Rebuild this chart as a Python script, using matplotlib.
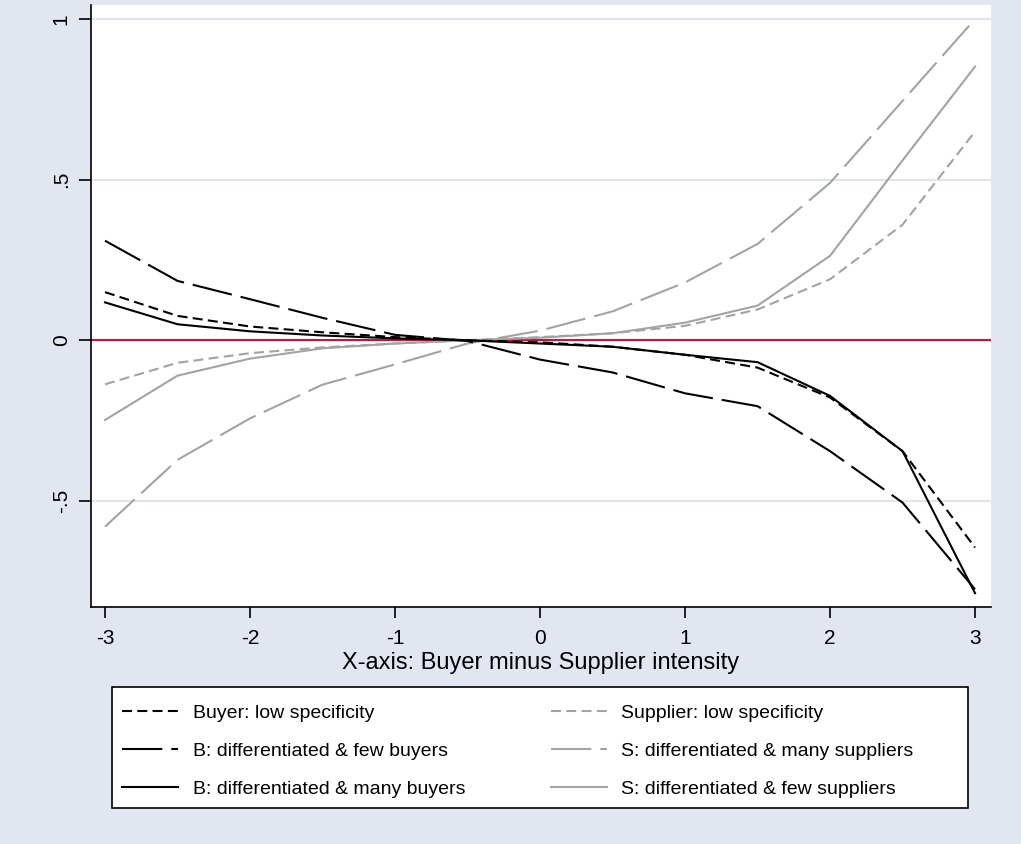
import numpy as np
import matplotlib
matplotlib.use('Agg')
import matplotlib.pyplot as plt
from matplotlib.patches import Rectangle

plt.rcParams['font.family'] = ['Liberation Sans', 'DejaVu Sans']
plt.rcParams['lines.scale_dashes'] = False
plt.rcParams['axes.unicode_minus'] = False

# data
x = [-3, -2.5, -2, -1.5, -1, -0.5, 0, 0.5, 1, 1.5, 2, 2.5, 3]
buyer_low = [0.15, 0.076, 0.043, 0.025, 0.01, 0.0, -0.006, -0.02, -0.045, -0.085, -0.178, -0.345, -0.645]
b_few = [0.31, 0.185, 0.128, 0.07, 0.017, -0.002, -0.06, -0.10, -0.165, -0.205, -0.345, -0.505, -0.775]
b_many = [0.118, 0.05, 0.028, 0.015, 0.006, 0.0, -0.01, -0.02, -0.045, -0.068, -0.173, -0.345, -0.787]
supp_low = [-0.137, -0.07, -0.04, -0.022, -0.01, 0.0, 0.01, 0.022, 0.045, 0.096, 0.19, 0.36, 0.65]
s_many = [-0.58, -0.372, -0.243, -0.138, -0.075, -0.01, 0.03, 0.09, 0.18, 0.30, 0.49, 0.745, 1.0]
s_few = [-0.248, -0.11, -0.057, -0.025, -0.01, 0.0, 0.008, 0.022, 0.055, 0.108, 0.263, 0.56, 0.852]

labels = ['Buyer: low specificity', 'B: differentiated & few buyers', 'B: differentiated & many buyers',
          'Supplier: low specificity', 'S: differentiated & many suppliers', 'S: differentiated & few suppliers']
xticks = [-3, -2, -1, 0, 1, 2, 3]
yticks = [-0.5, 0, 0.5, 1]
ytick_labels = ['-.5', '0', '.5', '1']

bg = '#E2E6F1'
gray = '#A3A3A3'
short_dash = (0, (7.2, 3.8))
long_dash = (0, (29, 6.5))

W, H = 1021, 844
fig = plt.figure(figsize=(W / 100, H / 100), dpi=100, facecolor=bg)
ax = fig.add_axes([91 / W, 1 - 607 / H, 900 / W, 602 / H])
ax.set_facecolor('white')

lw = 1.5
ax.plot(x, buyer_low, color='black', lw=lw, linestyle=short_dash, label=labels[0], zorder=3)
ax.plot(x, b_few, color='black', lw=lw, linestyle=long_dash, label=labels[1], zorder=3)
ax.plot(x, b_many, color='black', lw=lw, linestyle='-', label=labels[2], zorder=3)
ax.plot(x, supp_low, color=gray, lw=lw, linestyle=short_dash, label=labels[3], zorder=2)
ax.plot(x, s_many, color=gray, lw=lw, linestyle=long_dash, label=labels[4], zorder=2)
ax.plot(x, s_few, color=gray, lw=lw, linestyle='-', label=labels[5], zorder=2)

ax.axhline(0, color='#C8143C', lw=1.5, zorder=1.5)

ax.set_xlim(-3.0966, 3.110)
ax.set_ylim(-0.83, 1.0436)
ax.set_xticks(xticks)
ax.set_yticks(yticks)
ax.set_yticklabels(ytick_labels)
ax.grid(axis='y', color='#DFE4EF', lw=1.5, zorder=0)
ax.set_axisbelow(True)

for s in ['top', 'right']:
    ax.spines[s].set_visible(False)
for s in ['left', 'bottom']:
    ax.spines[s].set_linewidth(1.2)
    ax.spines[s].set_color('black')

ax.tick_params(axis='x', length=8, width=1.2, labelsize=15, pad=7.5)
ax.tick_params(axis='y', length=8.6, width=1.2, labelsize=15, pad=6, labelrotation=90)
for lab in ax.get_yticklabels():
    lab.set_va('center')

ax.set_xlabel('X-axis: Buyer minus Supplier intensity', fontsize=17, labelpad=3)

# legend box
fig.patches.append(Rectangle((112 / W, 1 - 808 / H), 856 / W, 121 / H, transform=fig.transFigure,
                             facecolor='white', edgecolor='black', lw=1.2, zorder=0))
fig.legend(*ax.get_legend_handles_labels(), loc='upper left',
           bbox_to_anchor=(122 / W, 1 - 704 / H), bbox_transform=fig.transFigure,
           ncol=2, frameon=False, fontsize=14, borderpad=0, borderaxespad=0,
           handlelength=2.88, handletextpad=0.75, columnspacing=4.4, labelspacing=1.05)

fig.savefig('out.png', dpi=100, facecolor=bg)
